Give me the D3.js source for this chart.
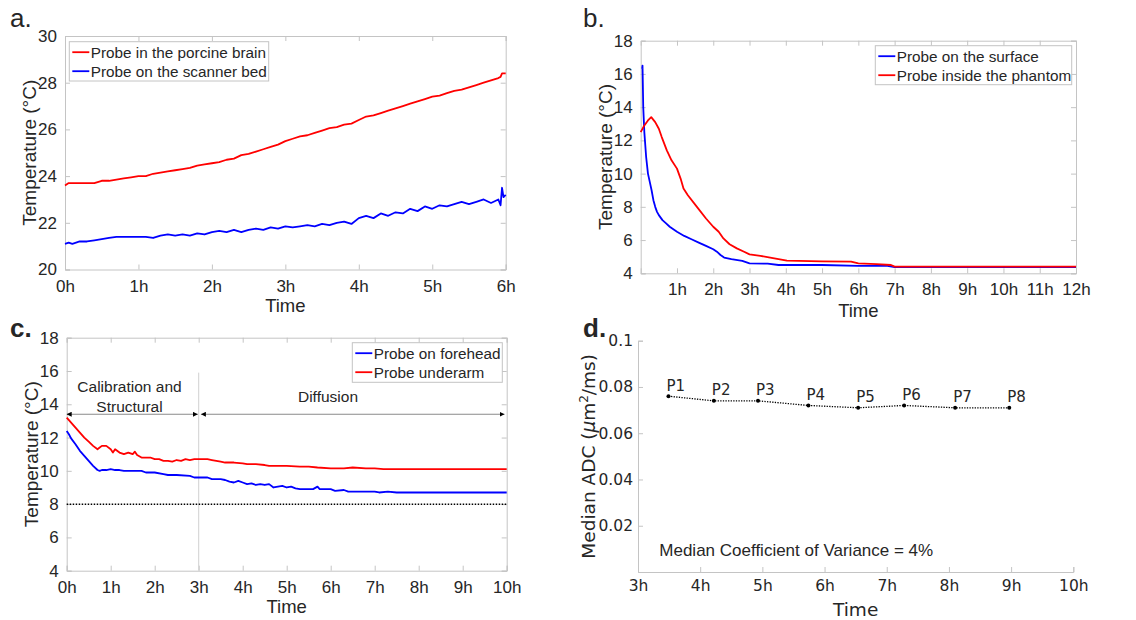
<!DOCTYPE html>
<html>
<head>
<meta charset="utf-8">
<script src="https://cdn.jsdelivr.net/npm/d3@7"></script>
<style>
body { margin: 0; background: white; }
text { fill: #262626; }
</style>
</head>
<body>
<div id="chart"></div>
<script>
// panel a: porcine brain vs scanner bed (hours, deg C)
var aTime  = [0,0.05,0.1,0.2,0.3,0.4,0.5,0.6,0.7,0.8,0.9,1.0,1.1,1.2,1.3,1.4,1.5,1.6,1.7,1.8,1.9,2.0,2.1,2.2,2.3,2.4,2.5,2.6,2.7,2.8,2.9,3.0,3.1,3.2,3.3,3.4,3.5,3.6,3.7,3.8,3.9,4.0,4.1,4.2,4.3,4.4,4.5,4.6,4.7,4.8,4.9,5.0,5.1,5.2,5.3,5.4,5.5,5.6,5.7,5.8,5.9,5.93,5.95,5.97,6.0];
var aBrain = [23.6,23.7,23.7,23.7,23.7,23.7,23.8,23.8,23.85,23.9,23.95,24.0,24.0,24.1,24.15,24.2,24.25,24.3,24.35,24.45,24.5,24.55,24.6,24.7,24.75,24.9,24.95,25.05,25.15,25.25,25.35,25.5,25.6,25.7,25.75,25.85,25.95,26.05,26.1,26.2,26.25,26.4,26.55,26.6,26.7,26.8,26.9,27.0,27.1,27.2,27.3,27.4,27.45,27.55,27.65,27.7,27.8,27.9,28.0,28.1,28.2,28.25,28.4,28.4,28.4];
var aBed   = [21.1,21.15,21.1,21.2,21.2,21.25,21.3,21.35,21.4,21.4,21.4,21.4,21.4,21.35,21.45,21.5,21.45,21.5,21.45,21.55,21.5,21.6,21.65,21.6,21.7,21.6,21.7,21.75,21.7,21.8,21.75,21.85,21.8,21.85,21.9,21.85,21.95,21.9,22.0,22.05,21.95,22.2,22.3,22.2,22.4,22.3,22.45,22.4,22.6,22.5,22.7,22.6,22.75,22.7,22.8,22.9,22.8,22.9,23.0,22.85,23.0,22.75,23.5,23.1,23.2];

// panel b: phantom surface / inside
var bSurfTime = [0.04,0.05,0.07,0.1,0.15,0.2,0.25,0.3,0.35,0.4,0.45,0.5,0.6,0.7,0.8,0.9,1.0,1.2,1.4,1.6,1.8,2.0,2.1,2.2,2.3,2.5,2.8,3.0,3.5,3.8,4.0,5.0,6.0,6.8,7.0,12.0];
var bSurf     = [16.3,16.5,14.0,12.5,11.0,10.0,9.5,9.0,8.4,8.0,7.7,7.5,7.2,7.0,6.8,6.65,6.5,6.25,6.05,5.85,5.65,5.45,5.3,5.1,4.95,4.85,4.75,4.6,4.58,4.5,4.5,4.5,4.45,4.45,4.38,4.38];
var bInTime = [0,0.1,0.2,0.29,0.4,0.5,0.58,0.72,0.85,1.0,1.1,1.18,1.3,1.55,1.8,2.0,2.15,2.28,2.45,2.65,2.85,3.0,3.3,3.57,3.8,4.03,5.0,5.8,6.0,6.5,6.9,7.0,12.0];
var bIn     = [12.5,12.9,13.2,13.4,13.1,12.7,12.2,11.4,10.8,10.3,9.7,9.1,8.7,8.0,7.3,6.8,6.5,6.1,5.75,5.5,5.3,5.14,5.05,4.94,4.85,4.76,4.72,4.7,4.6,4.55,4.5,4.4,4.4];

// panel c: volunteer probes
var cHeadTime = [0,0.05,0.1,0.2,0.3,0.4,0.5,0.6,0.7,0.75,0.8,0.9,1.0,1.1,1.2,1.3,1.5,1.7,1.8,2.0,2.2,2.3,2.5,2.8,2.9,3.2,3.3,3.5,3.6,3.7,3.8,3.9,4.0,4.1,4.2,4.3,4.4,4.5,4.6,4.7,4.8,4.9,5.0,5.1,5.2,5.3,5.6,5.7,5.75,6.0,6.1,6.3,6.4,7.0,7.1,7.3,7.5,10.0];
var cHead     = [12.4,12.2,11.95,11.6,11.2,10.9,10.6,10.3,10.05,10.0,10.05,10.05,10.1,10.05,10.05,10.0,10.0,10.0,9.9,9.9,9.8,9.75,9.75,9.7,9.6,9.6,9.5,9.5,9.45,9.35,9.3,9.4,9.3,9.2,9.25,9.15,9.2,9.15,9.2,9.0,9.05,9.1,9.0,9.05,8.95,8.9,8.9,9.05,8.9,8.9,8.8,8.85,8.75,8.75,8.7,8.75,8.7,8.7];
var cArmTime = [0,0.1,0.2,0.3,0.4,0.5,0.6,0.7,0.75,0.8,0.9,1.0,1.05,1.1,1.2,1.3,1.4,1.5,1.55,1.6,1.7,1.8,1.9,2.0,2.1,2.2,2.3,2.4,2.5,2.6,2.7,2.8,2.9,3.0,3.1,3.2,3.3,3.4,3.5,3.6,3.8,4.0,4.1,4.3,4.5,4.6,5.0,5.3,5.5,5.7,6.0,6.3,6.5,6.8,7.0,7.2,10.0];
var cArm     = [13.2,12.9,12.6,12.3,12.0,11.75,11.5,11.3,11.4,11.5,11.5,11.3,11.1,11.3,11.1,11.0,11.1,11.0,11.15,10.95,10.8,10.8,10.8,10.7,10.7,10.6,10.6,10.55,10.65,10.6,10.7,10.65,10.7,10.7,10.7,10.7,10.65,10.6,10.55,10.5,10.5,10.45,10.4,10.4,10.35,10.3,10.3,10.25,10.25,10.2,10.15,10.15,10.2,10.15,10.15,10.1,10.1];
var cThreshold = 8;
var cSplit = 3;       // end of calibration/structural block (h)
var cArrowLevel = 13.4;

// panel d: median ADC per diffusion scan
var dLabels = ["P1","P2","P3","P4","P5","P6","P7","P8"];
var dTime   = [3.49,4.22,4.93,5.74,6.54,7.28,8.10,8.97];
var dADC    = [0.076,0.074,0.074,0.072,0.071,0.072,0.071,0.071];

var W = 1136, H = 620;
var svg = d3.select("#chart").append("svg").attr("width", W).attr("height", H);

var axisGrey = "#c4c4c4";
var arial = "'Liberation Sans', Arial, sans-serif";
var dejavu = "'DejaVu Sans', sans-serif";

function panel(o) {
    var x = d3.scaleLinear().domain(o.xd).range([o.l, o.r]);
    var y = d3.scaleLinear().domain(o.yd).range([o.b, o.t]);
    var g = svg.append("g");
    var font = o.font || arial;

    var bottom = g.append("g").attr("transform", "translate(0," + o.b + ")")
        .call(d3.axisBottom(x).tickValues(o.xt).tickSize(-5).tickPadding(o.xpad)
              .tickFormat(d => d + "h"));
    var left = g.append("g").attr("transform", "translate(" + o.l + ",0)")
        .call(d3.axisLeft(y).tickValues(o.yt).tickSize(-5).tickPadding(o.ypad)
              .tickFormat(o.yfmt || (d => d)));
    [bottom, left].forEach(function(a) {
        a.selectAll("line").attr("stroke", axisGrey);
        a.select(".domain").attr("stroke", axisGrey);
        a.selectAll("text").style("font-family", font).style("font-size", o.tickSize + "px")
            .attr("fill", "#262626");
    });

    if (o.box) {
        var top = g.append("g").attr("transform", "translate(0," + o.t + ")")
            .call(d3.axisTop(x).tickValues(o.xt).tickSize(-5).tickFormat(""));
        var right = g.append("g").attr("transform", "translate(" + o.r + ",0)")
            .call(d3.axisRight(y).tickValues(o.yt).tickSize(-5).tickFormat(""));
        [top, right].forEach(function(a) {
            a.selectAll("line").attr("stroke", axisGrey);
            a.select(".domain").attr("stroke", axisGrey);
        });
    }

    g.append("text").text("Time")
        .attr("x", (o.l + o.r) / 2).attr("y", o.xTitleY)
        .attr("text-anchor", "middle")
        .style("font-family", font).style("font-size", "18.5px");

    var yt = g.append("text")
        .attr("transform", "translate(" + o.yTitleX + "," + (o.t + o.b) / 2 + ") rotate(-90)")
        .attr("text-anchor", "middle")
        .style("font-family", font).style("font-size", (o.yTitleSize || 19) + "px");
    if (o.yTitleParts) {
        o.yTitleParts.forEach(function(p) {
            var ts = yt.append("tspan").text(p.s);
            if (p.italic) ts.style("font-style", "italic");
            if (p.sup) ts.attr("dy", -7).style("font-size", "12px");
            if (p.unsup) ts.attr("dy", 7);
        });
    } else {
        yt.text(o.yTitle);
    }

    g.append("text").text(o.letter)
        .attr("x", o.lx).attr("y", o.ly)
        .style("font-family", arial).style("font-size", "26px")
        .style("font-weight", o.bold ? "bold" : "normal")
        .attr("fill", "#000");

    return {g: g, x: x, y: y};
}

function drawLine(p, xs, ys, color) {
    var pts = xs.map((t, i) => [t, ys[i]]);
    p.g.append("path").datum(pts)
        .attr("fill", "none").attr("stroke", color).attr("stroke-width", 1.8)
        .attr("stroke-linejoin", "round")
        .attr("d", d3.line().x(d => p.x(d[0])).y(d => p.y(d[1])));
}

function legend(p, x0, y0, w, h, items) {
    var lg = p.g.append("g");
    lg.append("rect").attr("x", x0).attr("y", y0).attr("width", w).attr("height", h)
        .attr("fill", "white").attr("stroke", axisGrey);
    items.forEach(function(it, i) {
        var cy = y0 + 10.5 + i * 19;
        lg.append("line").attr("x1", x0 + 3).attr("x2", x0 + 20)
            .attr("y1", cy).attr("y2", cy)
            .attr("stroke", it.color).attr("stroke-width", 1.8);
        lg.append("text").text(it.label).attr("x", x0 + 21.5).attr("y", cy + 5.3)
            .style("font-family", arial).style("font-size", "15.3px");
    });
}

// ---- a.
var pa = panel({l: 65, r: 505.7, t: 36, b: 269.5, xd: [0, 6], yd: [20, 30],
    xt: d3.range(0, 7), yt: [20, 22, 24, 26, 28, 30], box: true,
    tickSize: 17, xpad: 10, ypad: 8, xTitleY: 312, yTitleX: 36,
    yTitle: "Temperature (°C)", letter: "a.", lx: 10, ly: 26.7});
drawLine(pa, aTime, aBed, "#0000ff");
drawLine(pa, aTime, aBrain, "#ff0000");
legend(pa, 69.3, 41.7, 199.4, 39.3, [
    {label: "Probe in the porcine brain", color: "#ff0000"},
    {label: "Probe on the scanner bed", color: "#0000ff"}]);

// ---- b.
var pb = panel({l: 640.7, r: 1076, t: 40.7, b: 273.3, xd: [0, 12], yd: [4, 18],
    xt: d3.range(1, 13), yt: d3.range(4, 19, 2), box: true,
    tickSize: 17, xpad: 10, ypad: 8, xTitleY: 317, yTitleX: 612,
    yTitle: "Temperature (°C)", letter: "b.", lx: 583, ly: 26.7});
drawLine(pb, bSurfTime, bSurf, "#0000ff");
drawLine(pb, bInTime, bIn, "#ff0000");
legend(pb, 875.3, 45.7, 196.4, 39, [
    {label: "Probe on the surface", color: "#0000ff"},
    {label: "Probe inside the phantom", color: "#ff0000"}]);

// ---- c.
var pc = panel({l: 66.7, r: 506.7, t: 337.7, b: 570.7, xd: [0, 10], yd: [4, 18],
    xt: d3.range(0, 11), yt: d3.range(4, 19, 2), box: true,
    tickSize: 17, xpad: 10, ypad: 8, xTitleY: 613, yTitleX: 38,
    yTitle: "Temperature (°C)", letter: "c.", lx: 10, ly: 336.7, bold: true});

// separator between the two scan blocks
pc.g.append("line")
    .attr("x1", pc.x(cSplit)).attr("x2", pc.x(cSplit))
    .attr("y1", pc.y(15.9)).attr("y2", pc.y(4))
    .attr("stroke", "#d0d0d0").attr("stroke-width", 1);

var defs = svg.append("defs");
defs.append("marker").attr("id", "head").attr("viewBox", "0 0 10 10")
    .attr("refX", 10).attr("refY", 5).attr("markerWidth", 5).attr("markerHeight", 5)
    .attr("markerUnits", "userSpaceOnUse").attr("orient", "auto-start-reverse")
    .append("path").attr("d", "M0,0L10,5L0,10Z").attr("fill", "#000");

[[0, cSplit - 0.02], [cSplit + 0.05, 9.95]].forEach(function(s) {
    pc.g.append("line")
        .attr("x1", pc.x(s[0])).attr("x2", pc.x(s[1]))
        .attr("y1", pc.y(cArrowLevel)).attr("y2", pc.y(cArrowLevel))
        .attr("stroke", "#8a8a8a").attr("stroke-width", 1.2)
        .attr("marker-start", "url(#head)").attr("marker-end", "url(#head)");
});

pc.g.append("text").text("Calibration and")
    .attr("x", 129.5).attr("y", 391.5).attr("text-anchor", "middle")
    .style("font-family", arial).style("font-size", "15.5px");
pc.g.append("text").text("Structural")
    .attr("x", 129.5).attr("y", 411.5).attr("text-anchor", "middle")
    .style("font-family", arial).style("font-size", "15.5px");
pc.g.append("text").text("Diffusion")
    .attr("x", 328).attr("y", 401.5).attr("text-anchor", "middle")
    .style("font-family", arial).style("font-size", "15.5px");

pc.g.append("line")
    .attr("x1", pc.x(0)).attr("x2", pc.x(10))
    .attr("y1", pc.y(cThreshold)).attr("y2", pc.y(cThreshold))
    .attr("stroke", "#000").attr("stroke-width", 1.5).attr("stroke-dasharray", "1.5,1.5");

drawLine(pc, cHeadTime, cHead, "#0000ff");
drawLine(pc, cArmTime, cArm, "#ff0000");
legend(pc, 352.3, 342.7, 150, 39.6, [
    {label: "Probe on forehead", color: "#0000ff"},
    {label: "Probe underarm", color: "#ff0000"}]);

// ---- d.
var pd = panel({l: 638, r: 1073.3, t: 340.7, b: 572, xd: [3, 10], yd: [0, 0.1],
    xt: d3.range(3, 11), yt: [0.02, 0.04, 0.06, 0.08, 0.1], box: false,
    yfmt: d => d === 0.1 ? "0.1" : d.toFixed(2), font: dejavu,
    tickSize: 15.5, xpad: 8, ypad: 5, xTitleY: 616, yTitleX: 595,
    yTitleSize: 18.5,
    yTitleParts: [{s: "Median ADC ("}, {s: "μ", italic: true}, {s: "m"}, {s: "2", sup: true}, {s: "/ms)", unsup: true}],
    letter: "d.", lx: 583, ly: 336.7, bold: true});

var dPts = dTime.map((t, i) => ({t: t, v: dADC[i], lab: dLabels[i]}));
pd.g.append("path").datum(dPts)
    .attr("fill", "none").attr("stroke", "#000").attr("stroke-width", 1.3)
    .attr("stroke-dasharray", "1.3,1.3")
    .attr("d", d3.line().x(d => pd.x(d.t)).y(d => pd.y(d.v)));
pd.g.selectAll("circle.pt").data(dPts).enter().append("circle")
    .attr("cx", d => pd.x(d.t)).attr("cy", d => pd.y(d.v)).attr("r", 2)
    .attr("fill", "#000");
pd.g.selectAll("text.plab").data(dPts).enter().append("text")
    .attr("x", d => pd.x(d.t) - 2).attr("y", d => pd.y(d.v) - 5.5)
    .text(d => d.lab)
    .style("font-family", dejavu).style("font-size", "15px").attr("fill", "#000");

pd.g.append("text").text("Median Coefficient of Variance = 4%")
    .attr("x", 659.3).attr("y", 556)
    .style("font-family", arial).style("font-size", "17px").attr("fill", "#000");
</script>
</body>
</html>
